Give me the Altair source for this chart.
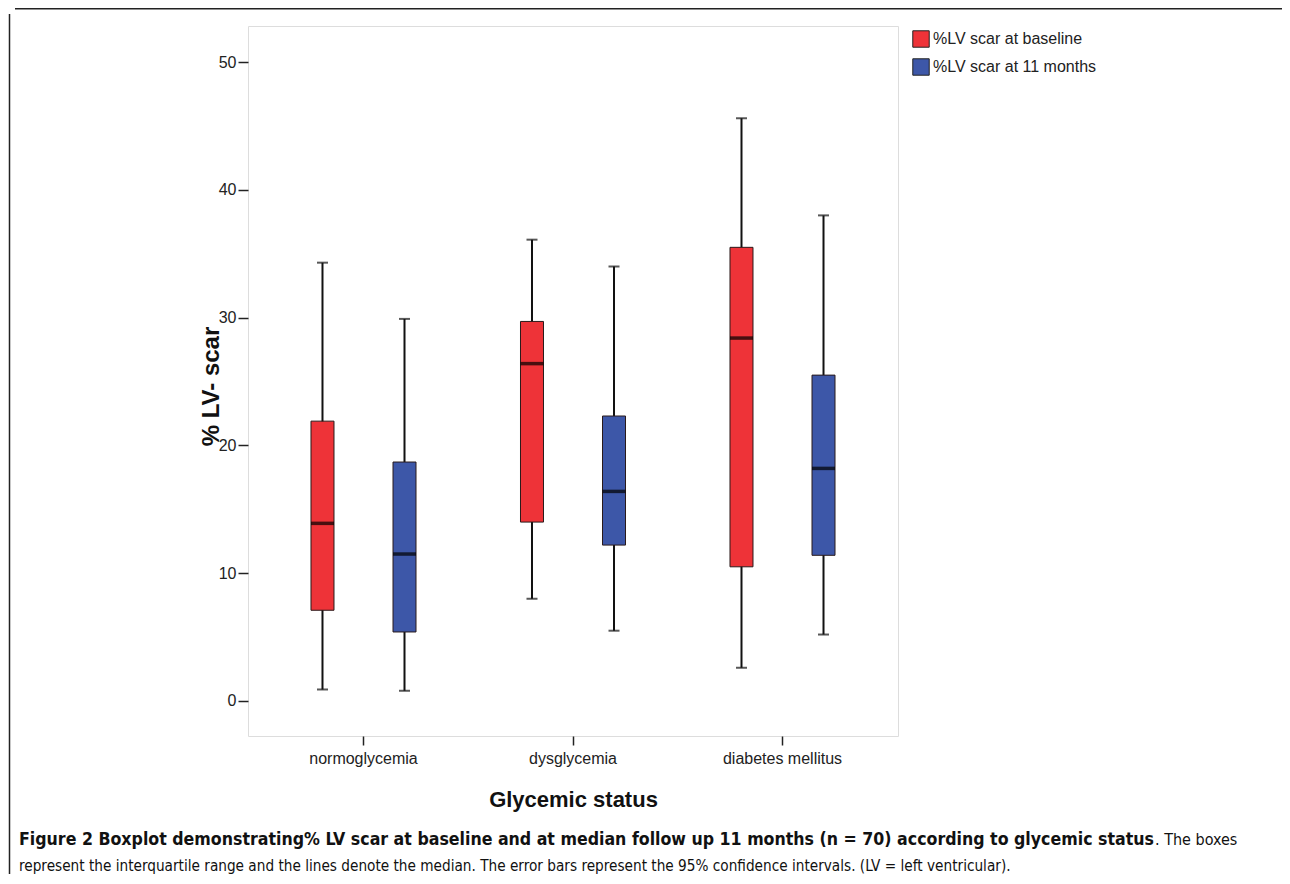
import altair as alt
import pandas as pd

# ---- data ----
groups = ["normoglycemia", "dysglycemia", "diabetes mellitus"]
series = ["%LV scar at baseline", "%LV scar at 11 months"]
colors = ["#ee3338", "#3d57a8"]

base_low = [0.9, 8.0, 2.6]
base_q1 = [7.1, 14.0, 10.5]
base_med = [13.9, 26.4, 28.4]
base_q3 = [21.9, 29.7, 35.5]
base_high = [34.3, 36.1, 45.6]

m11_low = [0.8, 5.5, 5.2]
m11_q1 = [5.4, 12.2, 11.4]
m11_med = [11.5, 16.4, 18.2]
m11_q3 = [18.7, 22.3, 25.5]
m11_high = [29.9, 34.0, 38.0]

y_ticks = [0, 10, 20, 30, 40, 50]

caption_bold = ("Figure 2 Boxplot demonstrating% LV scar at baseline and at median "
                "follow up 11 months (n = 70) according to glycemic status")
caption_rest1 = ". The boxes"
caption_line2 = ("represent the interquartile range and the lines denote the median. "
                 "The error bars represent the 95% confidence intervals. (LV = left ventricular).")

rows = []
for s, lows, q1s, meds, q3s, highs in [
    (series[0], base_low, base_q1, base_med, base_q3, base_high),
    (series[1], m11_low, m11_q1, m11_med, m11_q3, m11_high),
]:
    for g, lo, a, m, b, hi in zip(groups, lows, q1s, meds, q3s, highs):
        rows.append(dict(group=g, series=s, low=lo, q1=a, median=m, q3=b, high=hi))
df = pd.DataFrame(rows)

FONT = "Liberation Sans"
CAP_FONT = "DejaVu Sans Condensed, Liberation Sans"

x_enc = alt.X(
    "group:N", sort=groups,
    scale=alt.Scale(paddingInner=0, paddingOuter=0.0513),
    axis=alt.Axis(
        title="Glycemic status", labelAngle=0, labelFont=FONT, labelFontSize=16,
        labelColor="#222", labelPadding=5, tickSize=9, tickColor="#222", tickWidth=1.5,
        domain=False, grid=False,
        titleFont=FONT, titleFontSize=22, titleFontWeight="bold", titleColor="#111",
        titleY=70, titleBaseline="alphabetic",
    ),
)
xo_enc = alt.XOffset("series:N", sort=series,
                     scale=alt.Scale(paddingInner=0.7195, paddingOuter=0.637))
y_scale = alt.Scale(domain=[-2.74, 52.82], nice=False, zero=False)
y_axis = alt.Axis(
    values=y_ticks, title="% LV- scar", labelFont=FONT, labelFontSize=16,
    labelColor="#222", labelPadding=2, tickSize=10, tickColor="#222", tickWidth=1.5,
    domain=False, grid=False,
    titleFont=FONT, titleFontSize=24, titleFontWeight="bold", titleColor="#111",
    titleAngle=270, titleX=-30, titleY=360, titleBaseline="alphabetic", titleAlign="center",
)

base = alt.Chart(df)

whisker = base.mark_rule(color="#111", strokeWidth=2).encode(
    x=x_enc, xOffset=xo_enc,
    y=alt.Y("low:Q", scale=y_scale, axis=y_axis),
    y2="high:Q",
)
cap_low = base.mark_tick(color="#111", size=11, thickness=2).encode(
    x=x_enc, xOffset=xo_enc, y=alt.Y("low:Q", scale=y_scale))
cap_high = base.mark_tick(color="#111", size=11, thickness=2).encode(
    x=x_enc, xOffset=xo_enc, y=alt.Y("high:Q", scale=y_scale))
box = base.mark_bar(stroke="#2a1a1a", strokeWidth=1).encode(
    x=x_enc, xOffset=xo_enc,
    y=alt.Y("q1:Q", scale=y_scale), y2="q3:Q",
    color=alt.Color(
        "series:N", sort=series,
        scale=alt.Scale(domain=series, range=colors),
        legend=alt.Legend(
            title=None, orient="none", legendX=664, legendY=4, padding=0,
            symbolType="square", symbolSize=270, symbolStrokeColor="#222",
            symbolStrokeWidth=1, labelFont=FONT, labelFontSize=16, labelColor="#222",
            rowPadding=6, labelOffset=3, labelLimit=400,
        ),
    ),
)
med = base.mark_tick(color="#000", size=23, thickness=3.5).encode(
    x=x_enc, xOffset=xo_enc, y=alt.Y("median:Q", scale=y_scale))

one = pd.DataFrame({"k": [0]})
ann = alt.Chart(one)
cap1 = ann.mark_text(align="left", baseline="alphabetic", font=CAP_FONT, fontSize=17.6,
                     fontWeight="bold", color="#111").encode(
    x=alt.value(-229), y=alt.value(819), text=alt.value(caption_bold))
cap1b = ann.mark_text(align="left", baseline="alphabetic", font=CAP_FONT, fontSize=16,
                      color="#111").encode(
    x=alt.value(907), y=alt.value(819), text=alt.value(caption_rest1))
cap2 = ann.mark_text(align="left", baseline="alphabetic", font=CAP_FONT, fontSize=15.2,
                     color="#111").encode(
    x=alt.value(-229), y=alt.value(845), text=alt.value(caption_line2))
frame_left = ann.mark_rule(color="#222", strokeWidth=1.5).encode(
    x=alt.value(-238.5), y=alt.value(-12), y2=alt.value(860))
frame_top = ann.mark_rule(color="#222", strokeWidth=1.5).encode(
    x=alt.value(-233), x2=alt.value(1035), y=alt.value(-17.3))

chart = alt.layer(
    whisker, cap_low, cap_high, box, med, cap1, cap1b, cap2, frame_left, frame_top
).properties(
    width=650, height=710,
    autosize=alt.AutoSizeParams(type="none"),
    padding={"left": 240, "top": 18, "right": 384, "bottom": 138},
).configure_view(stroke="#222", strokeWidth=1.5).configure(background="white")

chart.save("out.html", embed_options={"renderer": "svg", "actions": False})
